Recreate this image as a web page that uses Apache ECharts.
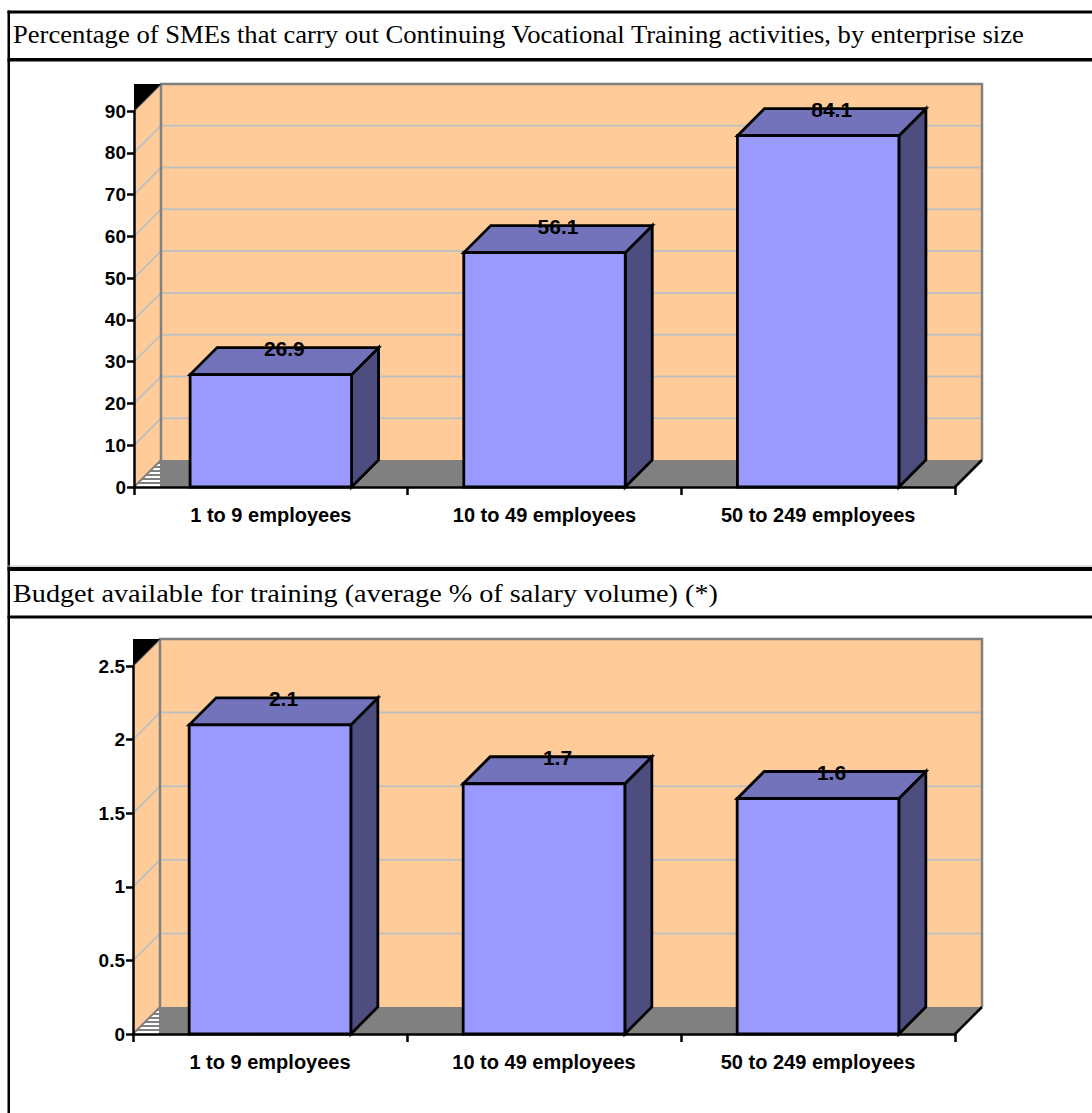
<!DOCTYPE html>
<html>
<head>
<meta charset="utf-8">
<title>Continuing Vocational Training in SMEs</title>
<script src="https://cdn.jsdelivr.net/npm/echarts@6/dist/echarts.min.js"></script>
<style>
  html, body { margin: 0; padding: 0; background: #fff; }
  #chart { width: 1092px; height: 1113px; }
</style>
</head>
<body>
<div id="chart"></div>
<script>
// ---- data ----
const categories = ['1 to 9 employees', '10 to 49 employees', '50 to 249 employees'];
const trainingShare = [26.9, 56.1, 84.1];      // % of SMEs with CVT activities
const trainingBudget = [2.1, 1.7, 1.6];        // average % of salary volume
const shareAxis = { min: 0, max: 90, step: 10 };
const budgetAxis = { min: 0, max: 2.5, step: 0.5 };
const titleShare = 'Percentage of SMEs that carry out Continuing Vocational Training activities, by enterprise size';
const titleBudget = 'Budget available for training (average % of salary volume) (*)';

// ---- look ----
const DEPTH = 27;                 // oblique depth of the 3D box, px
const BAR_RATIO = 0.59;           // bar width as share of the category band
const SANS = '"Liberation Sans", Arial, sans-serif';
const SERIF = '"Liberation Serif", "Times New Roman", serif';
const C = {
  wall: '#FFCC99', grid: '#C0C0C0', wallEdge: '#808080', floor: '#808080',
  front: '#9999FF', top: '#7373BB', side: '#4D4D80'
};

// walls, floor and gridlines of the 3D plot box
function sceneRenderer(ax) {
  return function (params, api) {
    const cs = params.coordSys;
    const x0 = cs.x, x1 = cs.x + cs.width, d = DEPTH;
    const yb = api.coord([0, ax.min])[1];
    const yt = api.coord([0, ax.max])[1];
    const kids = [];
    // back wall
    kids.push({ type: 'rect', shape: { x: x0 + d, y: yt - d, width: x1 - x0, height: yb - yt },
      style: { fill: C.wall, stroke: null } });
    // side wall
    kids.push({ type: 'polygon', shape: { points: [[x0, yb], [x0, yt], [x0 + d, yt - d], [x0 + d, yb - d]] },
      style: { fill: C.wall, stroke: null } });
    // gridlines on both walls
    for (let v = ax.min + ax.step; v < ax.max - 1e-9; v += ax.step) {
      const y = api.coord([0, v])[1];
      kids.push({ type: 'polyline', shape: { points: [[x0, y], [x0 + d, y - d], [x1 + d, y - d]] },
        style: { stroke: C.grid, lineWidth: 2, fill: null } });
    }
    // back wall frame
    kids.push({ type: 'polyline', shape: { points: [[x0 + d, yb - d], [x0 + d, yt - d], [x1 + d, yt - d], [x1 + d, yb - d]] },
      style: { stroke: C.wallEdge, lineWidth: 2.5, fill: null } });
    kids.push({ type: 'line', shape: { x1: x0, y1: yt, x2: x0 + d, y2: yt - d },
      style: { stroke: C.wallEdge, lineWidth: 2 } });
    // dark corner above the side wall
    kids.push({ type: 'polygon', shape: { points: [[x0, yt - d], [x0 + d, yt - d], [x0, yt]] },
      style: { fill: '#000', stroke: null } });
    // floor
    kids.push({ type: 'polygon', shape: { points: [[x0 + d, yb], [x0 + d, yb - d], [x1 + d, yb - d], [x1, yb]] },
      style: { fill: C.floor, stroke: null } });
    kids.push({ type: 'line', shape: { x1: x1, y1: yb, x2: x1 + d, y2: yb - d },
      style: { stroke: '#000', lineWidth: 2.5 } });
    // hatched floor edge under the side wall
    kids.push({ type: 'polygon', shape: { points: [[x0, yb], [x0 + d, yb - d], [x0 + d, yb]] },
      style: { fill: '#fff', stroke: null } });
    for (let k = 4; k < d; k += 4) {
      kids.push({ type: 'line', shape: { x1: x0 + k, y1: yb - k, x2: x0 + d, y2: yb - k },
        style: { stroke: '#000', lineWidth: 1 } });
    }
    kids.push({ type: 'line', shape: { x1: x0, y1: yb, x2: x0 + d, y2: yb - d },
      style: { stroke: C.wallEdge, lineWidth: 2 } });
    kids.push({ type: 'line', shape: { x1: x0 + d, y1: yb - d, x2: x0 + d, y2: yb },
      style: { stroke: C.wallEdge, lineWidth: 2 } });
    return { type: 'group', children: kids };
  };
}

// one 3D column with its value label
function barRenderer(params, api) {
  const d = DEPTH;
  const c = api.coord([api.value(0), api.value(1)]);
  const base = api.coord([api.value(0), 0]);
  const bw = api.size([1, 0])[0] * BAR_RATIO;
  const xa = c[0] - bw / 2, xb = c[0] + bw / 2, yv = c[1], y0 = base[1];
  const edge = { stroke: '#000', lineWidth: 2.8, lineJoin: 'miter' };
  return {
    type: 'group',
    children: [
      { type: 'polygon', shape: { points: [[xb, yv], [xb + d, yv - d], [xb + d, y0 - d], [xb, y0]] },
        style: Object.assign({ fill: C.side }, edge) },
      { type: 'polygon', shape: { points: [[xa, yv], [xa + d, yv - d], [xb + d, yv - d], [xb, yv]] },
        style: Object.assign({ fill: C.top }, edge) },
      { type: 'rect', shape: { x: xa, y: yv, width: bw, height: y0 - yv },
        style: Object.assign({ fill: C.front }, edge) },
      { type: 'text', x: c[0] + d / 2, y: yv - d + 1,
        style: { text: String(api.value(1)), fill: '#000', font: 'bold 21px ' + SANS,
          align: 'center', verticalAlign: 'middle' } }
    ]
  };
}

function xAxisFor(gridIndex) {
  return {
    gridIndex, type: 'category', data: categories, boundaryGap: true, z: 10,
    axisLine: { lineStyle: { color: '#000', width: 2.5 } },
    axisTick: { show: true, length: 8, lineStyle: { color: '#000', width: 2.5 } },
    axisLabel: { color: '#000', fontWeight: 'bold', fontSize: 20, fontFamily: SANS, margin: 18 },
    splitLine: { show: false }
  };
}
function yAxisFor(gridIndex, ax) {
  return {
    gridIndex, type: 'value', min: ax.min, max: ax.max, interval: ax.step, z: 10,
    axisLine: { show: true, lineStyle: { color: '#000', width: 2.5 } },
    axisTick: { show: true, length: 7, lineStyle: { color: '#000', width: 2.5 } },
    axisLabel: { color: '#000', fontWeight: 'bold', fontSize: 19, fontFamily: SANS, margin: 8 },
    splitLine: { show: false }
  };
}

// table frame and panel headings
function bar(x, y, w, h, fill) {
  return { type: 'rect', silent: true, shape: { x, y, width: w, height: h }, style: { fill: fill || '#000' } };
}
const frame = [
  bar(7.5, 10.5, 1100, 3),
  bar(7.5, 10.5, 2.5, 1110),
  bar(7.5, 58, 1100, 3.5),
  bar(7.5, 565.5, 1100, 1, '#BBBBBB'),
  bar(7.5, 567, 1100, 4),
  bar(7.5, 615.5, 1100, 3),
  { type: 'text', x: 13, y: 35, scaleX: 1.065, silent: true,
    style: { text: titleShare, font: '25px ' + SERIF, fill: '#000', verticalAlign: 'middle' } },
  { type: 'text', x: 13, y: 594, scaleX: 1.128, silent: true,
    style: { text: titleBudget, font: '25px ' + SERIF, fill: '#000', verticalAlign: 'middle' } }
];

const chart = echarts.init(document.getElementById('chart'), null, { renderer: 'svg' });
chart.setOption({
  animation: false,
  backgroundColor: '#fff',
  grid: [
    { left: 134, top: 111, width: 821, height: 376 },
    { left: 133, top: 666, width: 822, height: 368 }
  ],
  xAxis: [xAxisFor(0), xAxisFor(1)],
  yAxis: [yAxisFor(0, shareAxis), yAxisFor(1, budgetAxis)],
  graphic: frame,
  series: [
    { type: 'custom', name: 'box', xAxisIndex: 0, yAxisIndex: 0, silent: true, z: 1,
      renderItem: sceneRenderer(shareAxis), data: [[0, 0]] },
    { type: 'custom', name: 'Share of SMEs', xAxisIndex: 0, yAxisIndex: 0, z: 3,
      renderItem: barRenderer, data: trainingShare.map((v, i) => [i, v]) },
    { type: 'custom', name: 'box', xAxisIndex: 1, yAxisIndex: 1, silent: true, z: 1,
      renderItem: sceneRenderer(budgetAxis), data: [[0, 0]] },
    { type: 'custom', name: 'Training budget', xAxisIndex: 1, yAxisIndex: 1, z: 3,
      renderItem: barRenderer, data: trainingBudget.map((v, i) => [i, v]) }
  ]
});
</script>
</body>
</html>
